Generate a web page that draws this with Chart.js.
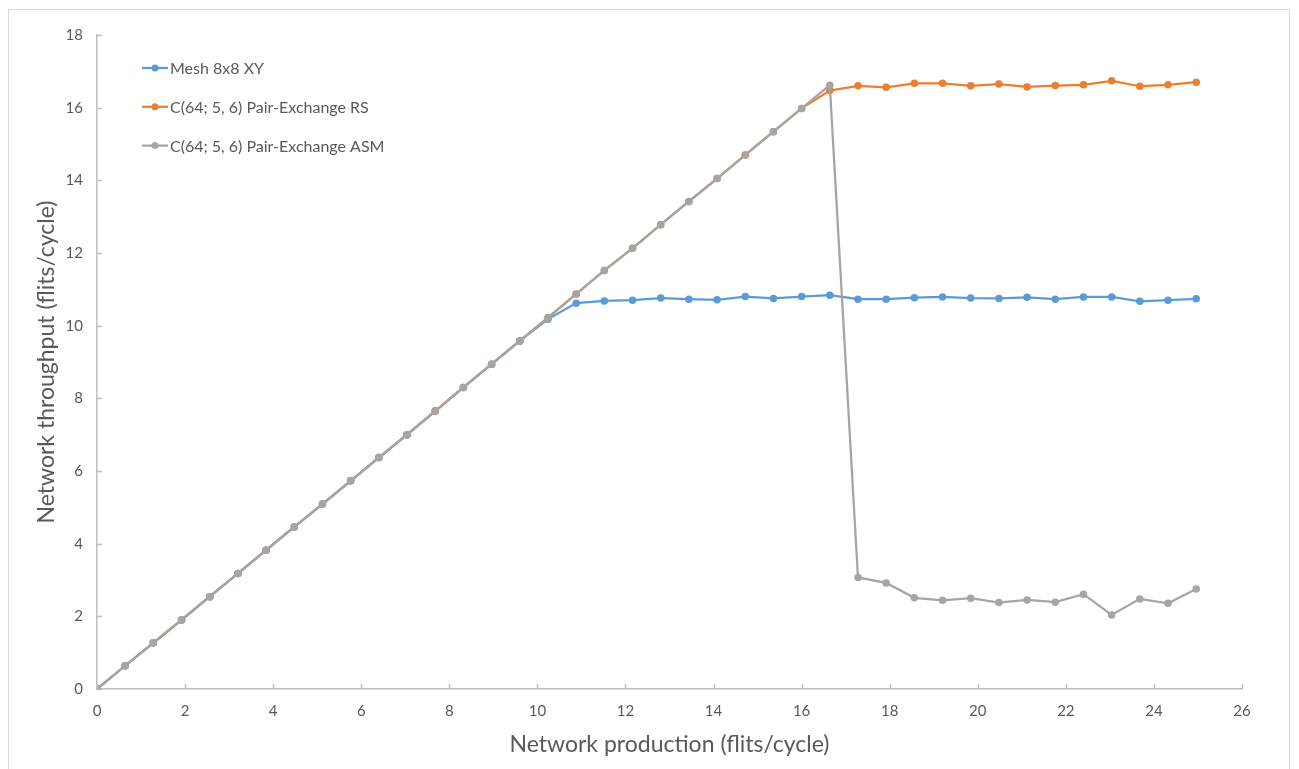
<!DOCTYPE html>
<html>
<head>
<meta charset="utf-8">
<script src="https://cdn.jsdelivr.net/npm/chart.js@4"></script>
<style>
  html, body { margin: 0; padding: 0; background: #fff; overflow: hidden; }
  #wrap { position: relative; width: 1299px; height: 769px; }
  #frame { position: absolute; left: 8px; top: 9px; width: 1282px; height: 780px; border: 1px solid #d9d9d9; box-sizing: border-box; }
  canvas { position: absolute; left: 0; top: 0; }
</style>
</head>
<body>
<div id="wrap">
  <div id="frame"></div>
  <canvas id="linechart" width="1299" height="769"></canvas>
</div>
<script>
const production = [0, 0.64, 1.28, 1.92, 2.56, 3.2, 3.84, 4.48, 5.12, 5.76,
  6.4, 7.04, 7.68, 8.32, 8.96, 9.6, 10.24, 10.88, 11.52, 12.16,
  12.8, 13.44, 14.08, 14.72, 15.36, 16.0, 16.64, 17.28, 17.92, 18.56,
  19.2, 19.84, 20.48, 21.12, 21.76, 22.4, 23.04, 23.68, 24.32, 24.96];

const meshXY = [0, 0.64, 1.27, 1.9, 2.54, 3.18, 3.82, 4.46, 5.09, 5.73,
  6.37, 7.0, 7.65, 8.3, 8.94, 9.58, 10.18, 10.62, 10.68, 10.7,
  10.76, 10.73, 10.71, 10.8, 10.75, 10.8, 10.84, 10.73, 10.73, 10.77,
  10.79, 10.76, 10.75, 10.78, 10.73, 10.79, 10.79, 10.67, 10.7, 10.74];

const pairRS = [0, 0.64, 1.27, 1.9, 2.54, 3.18, 3.82, 4.46, 5.09, 5.73,
  6.37, 7.0, 7.65, 8.3, 8.94, 9.58, 10.22, 10.87, 11.52, 12.13,
  12.78, 13.42, 14.05, 14.7, 15.34, 15.98, 16.47, 16.6, 16.56, 16.67,
  16.67, 16.6, 16.65, 16.57, 16.61, 16.63, 16.74, 16.59, 16.63, 16.7];

const pairASM = [0, 0.64, 1.27, 1.9, 2.54, 3.18, 3.82, 4.46, 5.09, 5.73,
  6.37, 7.0, 7.65, 8.3, 8.94, 9.58, 10.22, 10.87, 11.52, 12.13,
  12.78, 13.42, 14.05, 14.7, 15.34, 15.98, 16.62, 3.07, 2.92, 2.51,
  2.44, 2.5, 2.38, 2.45, 2.39, 2.61, 2.04, 2.48, 2.36, 2.75];

const seriesNames = ["Mesh 8x8 XY", "C(64; 5, 6) Pair-Exchange RS", "C(64; 5, 6) Pair-Exchange ASM"];
const seriesColors = ["#5b9bd5", "#ed7d31", "#a5a5a5"];

const fontFamily = "Lato, 'Open Sans', sans-serif";
const textColor = "#595959";
const axisColor = "#bfbfbf";

function points(values) {
  return production.map((x, i) => ({ x: x, y: values[i] }));
}

function makeDataset(i, values, order) {
  return {
    label: seriesNames[i],
    data: points(values),
    borderColor: seriesColors[i],
    backgroundColor: seriesColors[i],
    borderWidth: 2.25,
    pointRadius: 3.75,
    pointBorderWidth: 0,
    pointHoverRadius: 3.75,
    tension: 0,
    fill: false,
    order: order,
  };
}

// excel style: ticks pointing into the plot
const insideTicks = {
  id: "insideTicks",
  afterDraw(chart) {
    const c = chart.ctx;
    const xs = chart.scales.x, ys = chart.scales.y;
    c.save();
    c.strokeStyle = axisColor;
    c.lineWidth = 1.5;
    c.beginPath();
    xs.ticks.forEach((t) => {
      const px = Math.round(xs.getPixelForValue(t.value)) + 0.5;
      c.moveTo(px, xs.top);
      c.lineTo(px, xs.top - 5);
    });
    ys.ticks.forEach((t) => {
      const py = Math.round(ys.getPixelForValue(t.value)) + 0.5;
      c.moveTo(ys.right, py);
      c.lineTo(ys.right + 5, py);
    });
    c.stroke();
    c.restore();
  }
};

// legend inside the plot, top left
const innerLegend = {
  id: "innerLegend",
  afterDraw(chart) {
    const c = chart.ctx;
    const area = chart.chartArea;
    c.save();
    c.font = "16px " + fontFamily;
    c.textBaseline = "middle";
    seriesNames.forEach((name, i) => {
      const y = area.top + 33 + i * 38.8;
      const x0 = area.left + 45;
      c.strokeStyle = seriesColors[i];
      c.lineWidth = 2.25;
      c.beginPath();
      c.moveTo(x0, y);
      c.lineTo(x0 + 26, y);
      c.stroke();
      c.fillStyle = seriesColors[i];
      c.beginPath();
      c.arc(x0 + 13, y, 3.5, 0, Math.PI * 2);
      c.fill();
      c.fillStyle = textColor;
      c.fillText(name, x0 + 28, y + 1);
    });
    c.restore();
  }
};

const ctx = document.getElementById("linechart").getContext("2d");

new Chart(ctx, {
  type: "line",
  data: {
    datasets: [
      makeDataset(0, meshXY, 2),
      makeDataset(1, pairRS, 1),
      makeDataset(2, pairASM, 0),
    ],
  },
  options: {
    responsive: false,
    animation: false,
    layout: { padding: { left: 33, top: 35, right: 57, bottom: 0 } },
    plugins: {
      legend: { display: false },
      tooltip: { enabled: false },
    },
    scales: {
      x: {
        type: "linear",
        min: 0,
        max: 26,
        ticks: {
          stepSize: 2,
          padding: 13,
          color: textColor,
          font: { family: fontFamily, size: 15 },
        },
        grid: { display: false, drawTicks: false },
        border: { display: true, color: axisColor, width: 1.5 },
        title: {
          display: true,
          text: "Network production (flits/cycle)",
          color: textColor,
          font: { family: fontFamily, size: 23 },
          padding: { top: 0, bottom: 11 },
        },
        afterFit(scale) { scale.height = 80; },
      },
      y: {
        type: "linear",
        min: 0,
        max: 18,
        ticks: {
          stepSize: 2,
          padding: 14,
          color: textColor,
          font: { family: fontFamily, size: 15 },
        },
        grid: { display: false, drawTicks: false },
        border: { display: true, color: axisColor, width: 1.5 },
        title: {
          display: true,
          text: "Network throughput (flits/cycle)",
          color: textColor,
          font: { family: fontFamily, size: 23 },
          padding: { top: 0, bottom: 0 },
        },
        afterFit(scale) { scale.width = 64; },
      },
    },
  },
  plugins: [insideTicks, innerLegend],
});
</script>
</body>
</html>
